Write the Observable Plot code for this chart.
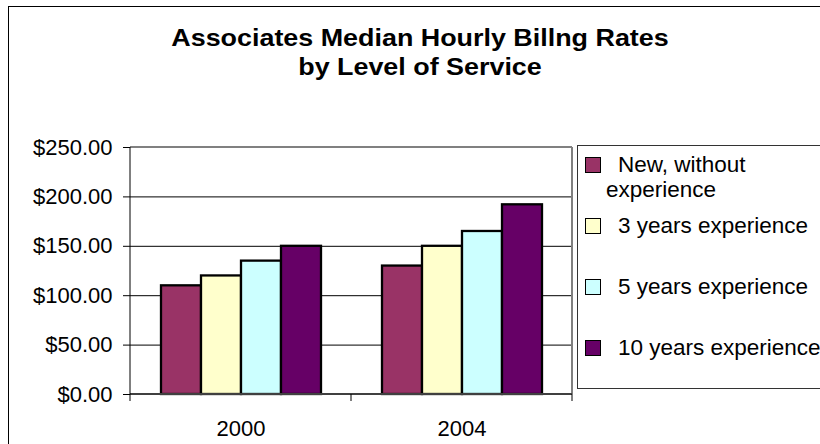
<!DOCTYPE html>
<html>
<head>
<meta charset="utf-8">
<script src="https://cdn.jsdelivr.net/npm/d3@7"></script>
<script src="https://cdn.jsdelivr.net/npm/@observablehq/plot@0.6"></script>
<style>
  html, body { margin: 0; padding: 0; background: #fff; }
  #wrap { position: relative; width: 820px; height: 444px; overflow: hidden; background: #fff;
          font-family: Arial, "Liberation Sans", sans-serif; color: #000; }
  #border { position: absolute; left: 8px; top: 6px; width: 900px; height: 500px;
            border: 1.5px solid #000; box-sizing: border-box; }
  #title { position: absolute; left: 120px; top: 23px; width: 600px; text-align: center;
           font-weight: bold; font-size: 24px; line-height: 29px;
           transform: scaleX(1.12); transform-origin: 300px 0; }
  #chart { position: absolute; left: 0; top: 120px; }
  #legend { position: absolute; left: 577px; top: 145px; width: 300px; height: 244px;
            border: 1.5px solid #333; box-sizing: border-box; }
  .item { position: absolute; left: 0; }
  .sw { position: absolute; left: 7px; top: 5px; width: 14px; height: 14px; border: 1.5px solid #000; box-sizing: content-box; }
  .lab { position: absolute; left: 28px; top: 0; width: 225px; text-indent: 12px;
         font-size: 22.5px; line-height: 25px; }
</style>
</head>
<body>
<div id="wrap">
  <div id="border"></div>
  <div id="title">Associates Median Hourly Billng Rates<br>by Level of Service</div>
  <div id="chart"></div>
  <div id="legend"></div>
</div>
<script>
const years = ["2000", "2004"];
const series = ["New, without experience", "3 years experience", "5 years experience", "10 years experience"];
const values2000 = [110, 120, 135, 150];
const values2004 = [130, 150, 165, 192];
const colors = ["#993366", "#FFFFCC", "#CCFFFF", "#660066"];
const yTicks = [0, 50, 100, 150, 200, 250];
const gridTicks = [50, 100, 150, 200];

const valuesByYear = [values2000, values2004];
const data = years.flatMap((yr, i) => series.map((s, j) => ({year: yr, series: s, value: valuesByYear[i][j]})));

const chart = Plot.plot({
  width: 600, height: 324,
  marginLeft: 130, marginRight: 28, marginTop: 27, marginBottom: 50,
  style: {fontFamily: "Arial, 'Liberation Sans', sans-serif", fontSize: "22px", color: "#000", background: "transparent", overflow: "visible"},
  fx: {domain: years, padding: 0},
  x: {domain: series, paddingInner: 0, paddingOuter: 0.75, axis: null},
  y: {domain: [0, 250]},
  color: {domain: series, range: colors},
  marks: [
    Plot.gridY({ticks: gridTicks, stroke: "#000", strokeOpacity: 1, strokeWidth: 1}),
    Plot.barY(data, {fx: "year", x: "series", y: "value", fill: "series", stroke: "#000", strokeWidth: 2.3, inset: 0}),
    Plot.axisY({ticks: yTicks, tickFormat: d3.format("$.2f"), tickSize: 7, tickPadding: 11, label: null, fontSize: 22}),
    Plot.axisFx({anchor: "bottom", tickSize: 0, tickPadding: 26, label: null, fontSize: 22})
  ]
});
document.getElementById("chart").appendChild(chart);

// plot-area border, axis lines and category boundary ticks from the plot's own scales
const svg = d3.select(chart.tagName.toLowerCase() === "svg" ? chart : chart.querySelector("svg"));
const yS = chart.scale("y"), fxS = chart.scale("fx");
const x0 = fxS.range[0], x1 = fxS.range[1];
const yBot = yS.apply(0), yTop = yS.apply(250);
const g = svg.append("g");
const line = (ax, bx, ay, by, c, w) => g.append("line").attr("x1", ax).attr("x2", bx).attr("y1", ay).attr("y2", by).attr("stroke", c).attr("stroke-width", w);
line(x0, x1, yTop, yTop, "#808080", 2);
line(x1, x1, yTop, yBot, "#808080", 2);
line(x0, x1, yBot, yBot, "#808080", 2);
line(x0, x0, yTop, yBot, "#000", 1);
line(x0, x1, yBot, yBot, "#000", 1);
const bounds = years.map(y => fxS.apply(y)).concat([fxS.apply(years[years.length - 1]) + fxS.bandwidth]);
g.selectAll("line.b").data(bounds).join("line").attr("class", "b")
  .attr("x1", d => d).attr("x2", d => d).attr("y1", yBot).attr("y2", yBot + 7)
  .attr("stroke", "#000").attr("stroke-width", 1);

// legend
const legend = d3.select("#legend");
series.forEach((s, i) => {
  const it = legend.append("div").attr("class", "item").style("top", (6 + i * 61) + "px");
  it.append("div").attr("class", "sw").style("background", colors[i]);
  it.append("div").attr("class", "lab").text(s);
});
</script>
</body>
</html>
